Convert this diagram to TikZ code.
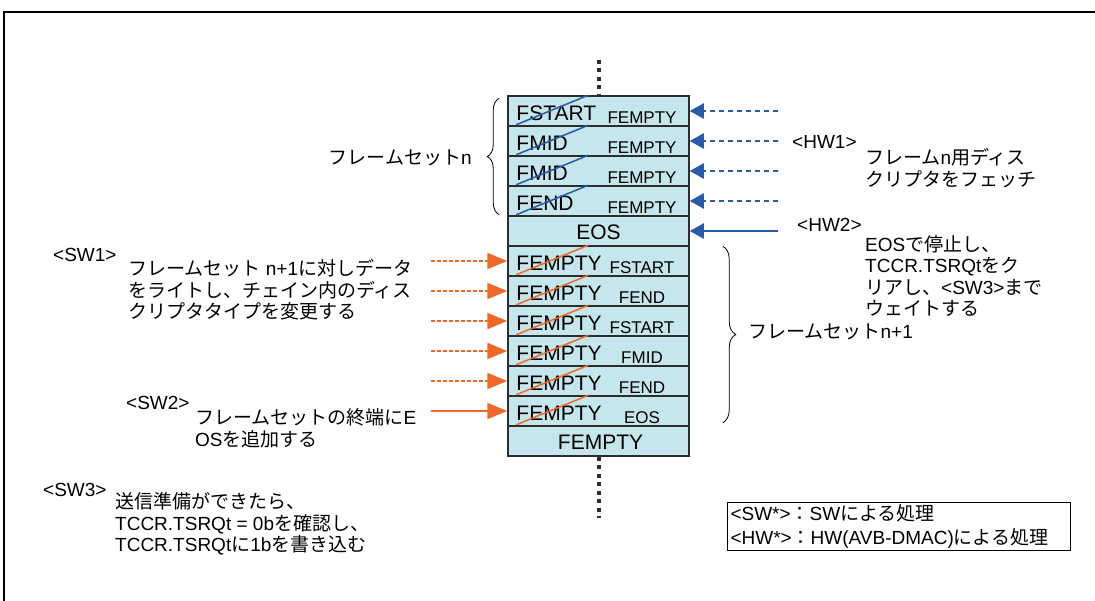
\documentclass[tikz,border=0pt]{standalone}
\usepackage{fontspec}
\setmainfont{Liberation Sans}
\newfontfamily\jpfont{Noto Sans CJK JP}
\usetikzlibrary{arrows.meta, positioning, decorations.pathreplacing}
\definecolor{cellfill}{RGB}{196,230,236}
\definecolor{cellline}{RGB}{45,45,45}
\definecolor{hwblue}{RGB}{38,90,170}
\definecolor{sworange}{RGB}{240,104,40}
% Japanese runs switch to the CJK font on their own
\XeTeXinterchartokenstate=1
\chardef\jpclass=7
\newcount\jpchar
\def\setcharclass#1#2#3{\jpchar=#1 \loop\XeTeXcharclass\jpchar=#3 \ifnum\jpchar<#2 \advance\jpchar by 1 \repeat}
\setcharclass{"0021}{"007E}{0}
\setcharclass{"3000}{"30FF}{\jpclass}
\setcharclass{"4E00}{"9FFF}{\jpclass}
\setcharclass{"FF00}{"FFEF}{\jpclass}
\XeTeXinterchartoks 0 \jpclass={\jpfont}
\XeTeXinterchartoks 4095 \jpclass={\jpfont}
\XeTeXinterchartoks \jpclass 0={\rmfamily}
\XeTeXinterchartoks \jpclass 4095={\rmfamily}
\begin{document}
\begin{tikzpicture}[x=1pt, y=-1pt, font=\fontsize{19}{21.5}\selectfont, cell/.style={draw=cellline, line width=1.5pt, fill=cellfill, minimum width=181pt, minimum height=30pt, inner sep=0pt}, mainlbl/.style={font=\fontsize{21}{24}\selectfont, inner sep=0pt}, sublbl/.style={font=\fontsize{17}{20}\selectfont, inner sep=0pt}, hw/.style={draw=hwblue, line width=2pt, -{Triangle[length=14pt, width=15pt]}}, sw/.style={draw=sworange, line width=2pt, -{Triangle[length=20pt, width=16pt]}}, spine/.style={draw=cellline, line width=4pt, dash pattern=on 4pt off 4.5pt}, curly/.style={decorate, decoration={brace, amplitude=12pt}, line width=0.8pt}, note/.style={align=left, inner sep=0pt, anchor=west}]
\useasboundingbox (0,0) rectangle (1095,601);
\draw[line width=1.5pt] (4,601) -- (4,12) -- (1095,12);
\foreach \i in {1,...,12} {\node[cell] (r\i) at (598.5,81+30*\i) {};}
\foreach \i/\mainname/\subname in {1/FSTART/FEMPTY, 2/FMID/FEMPTY, 3/FMID/FEMPTY, 4/FEND/FEMPTY, 6/FEMPTY/FSTART, 7/FEMPTY/FEND, 8/FEMPTY/FSTART, 9/FEMPTY/FMID, 10/FEMPTY/FEND, 11/FEMPTY/EOS} {\node[mainlbl, anchor=base west] (m\i) at ([xshift=9pt, yshift=6.5pt]r\i.south west) {\mainname}; \node[sublbl, anchor=base] (s\i) at ([xshift=43.5pt, yshift=3.5pt]r\i.south) {\subname};}
\node[mainlbl, anchor=base] (m5) at ([yshift=7pt]r5.south) {EOS};
\node[mainlbl, anchor=base] (m12) at ([xshift=2pt, yshift=7pt]r12.south) {FEMPTY};
\foreach \i/\c in {1/hwblue, 2/hwblue, 3/hwblue, 4/hwblue, 6/sworange, 7/sworange, 8/sworange, 9/sworange, 10/sworange, 11/sworange} {\draw[\c, line width=1.5pt] ([xshift=9pt, yshift=2pt]r\i.south west) -- ([xshift=81pt]r\i.north west);}
\coordinate (spinetop) at (598.5,60);
\coordinate (spinebot) at (598.5,518);
\draw[spine] (spinetop) -- (r1.north);
\draw[spine] (r12.south) -- (spinebot);
\foreach \i in {1,...,5} {\coordinate (hwfrom\i) at (778,81+30*\i);}
\foreach \i in {1,...,4} {\draw[hw, dash pattern=on 5pt off 4pt] (hwfrom\i) -- (r\i.east);}
\draw[hw] (hwfrom5) -- (r5.east);
\foreach \i in {6,...,11} {\coordinate (swfrom\i) at (431,81+30*\i);}
\foreach \i in {6,...,10} {\draw[sw, dash pattern=on 4pt off 2pt] (swfrom\i) -- (r\i.west);}
\draw[sw] (swfrom11) -- (r11.west);
\draw[curly] ([xshift=-8pt, yshift=2pt]r4.south west) -- ([xshift=-8pt, yshift=-3pt]r1.north west);
\draw[curly, decoration={amplitude=13pt}] ([xshift=33pt, yshift=-1pt]r6.north east) -- ([xshift=33pt, yshift=4pt]r11.south east);
\node[note, anchor=east] (setn) at (472,158) {フレームセットn};
\node[note] (setn1) at (748,332) {フレームセットn+1};
\node[note] (hw1) at (792,142) {<HW1>};
\node[note] (hw1txt) at (865,168) {フレームn用ディス\\クリプタをフェッチ};
\node[note] (hw2) at (797,225) {<HW2>};
\node[note] (hw2txt) at (865,276) {EOSで停止し、\\TCCR.TSRQtをク\\リアし、<SW3>まで\\ウェイトする};
\node[note] (sw1) at (53,255) {<SW1>};
\node[note] (sw1txt) at (128,290) {フレームセット n+1に対しデータ\\をライトし、チェイン内のディス\\クリプタタイプを変更する};
\node[note] (sw2) at (126,403) {<SW2>};
\node[note] (sw2txt) at (195,428.5) {フレームセットの終端にE\\OSを追加する};
\node[note] (sw3) at (43,490) {<SW3>};
\node[note] (sw3txt) at (115,524) {送信準備ができたら、\\TCCR.TSRQt = 0bを確認し、\\TCCR.TSRQtに1bを書き込む};
\node[draw, line width=1pt, anchor=north west, align=left, text width=337pt, inner xsep=3pt, inner ysep=2pt, font=\fontsize{19}{24}\selectfont] (legend) at (727,502) {<SW*>：SWによる処理\\<HW*>：HW(AVB-DMAC)による処理};
\end{tikzpicture}
\end{document}
